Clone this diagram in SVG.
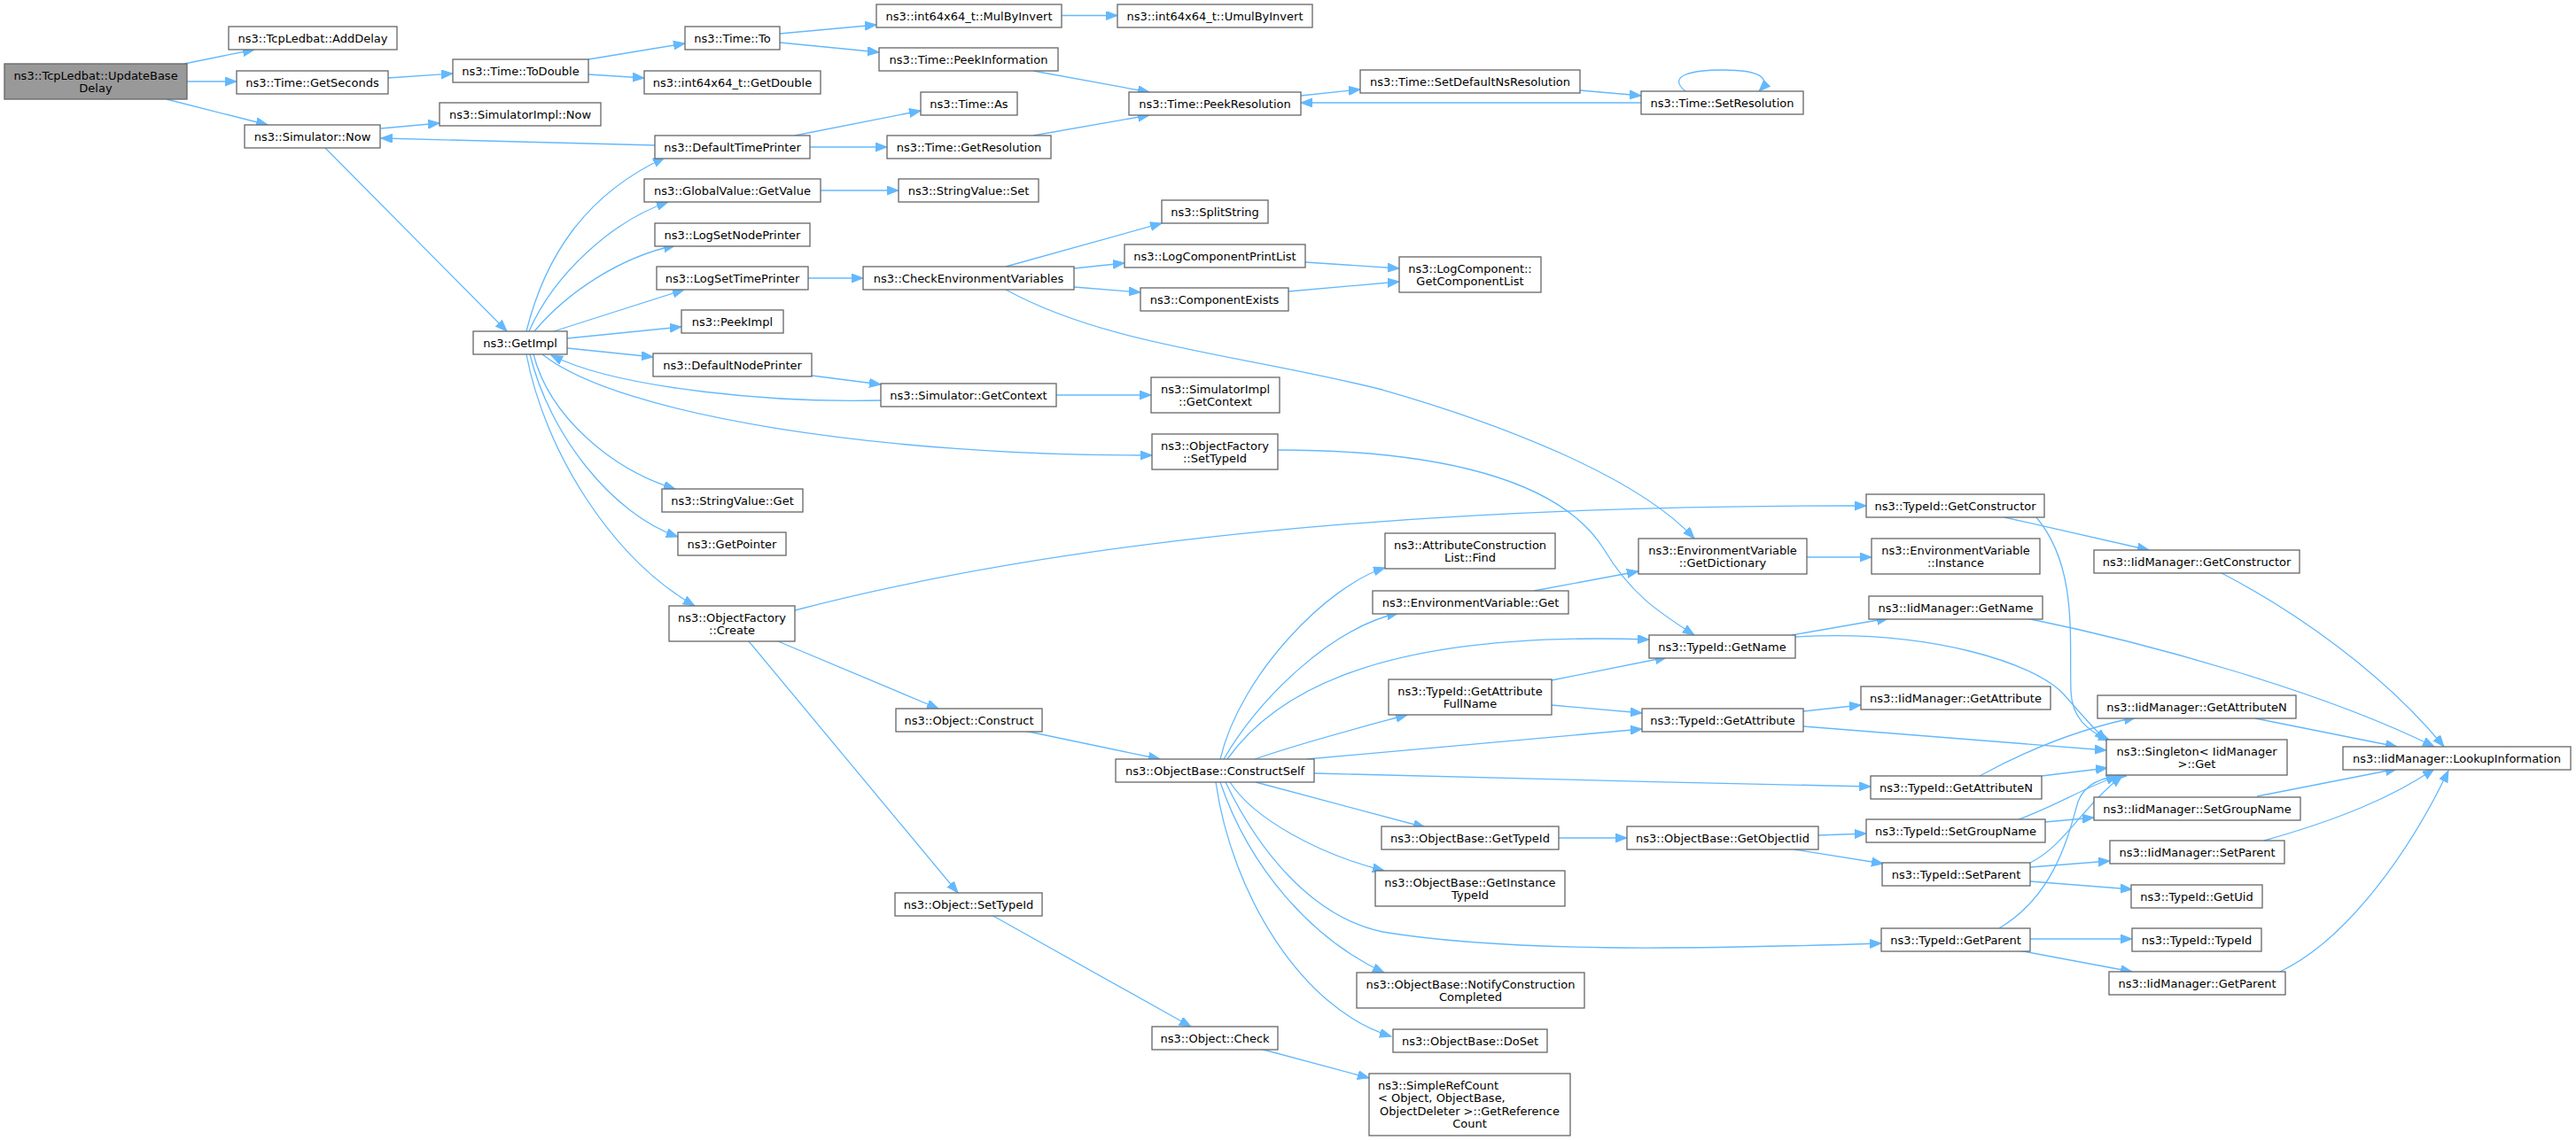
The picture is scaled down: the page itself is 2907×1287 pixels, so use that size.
<svg xmlns="http://www.w3.org/2000/svg" width="2907" height="1287" viewBox="0 0 2907 1287">
<defs>
<style>
.n rect{fill:#ffffff;stroke:#666666;stroke-width:1.3}
.n.main rect{fill:#999999}
.n text{font-family:"DejaVu Sans","Noto Sans",sans-serif;font-size:13px;fill:#000000;text-anchor:middle}
.n text.l{text-anchor:start}
.e path{fill:none;stroke:#63b8ff;stroke-width:1.3;marker-end:url(#arr)}
</style>
<marker id="arr" markerUnits="userSpaceOnUse" markerWidth="14" markerHeight="11" refX="13" refY="5" orient="auto"><path d="M0,0 L13,5 L0,10 z" fill="#63b8ff" stroke="#63b8ff" stroke-width="1"/></marker>
</defs>
<rect width="2907" height="1287" fill="#ffffff"/>
<g id="connectors" class="e">
<path d="M208,72 L287,56"/>
<path d="M211,92 L267,92"/>
<path d="M188,112 L302,141"/>
<path d="M438,88 L511,83"/>
<path d="M664,67 L773,49"/>
<path d="M664,84 L727,88"/>
<path d="M880,38 L989,28"/>
<path d="M880,48 L992,59"/>
<path d="M1198,17.5 L1261,17.5"/>
<path d="M1166,80 L1297,104"/>
<path d="M1166,153 L1297,130"/>
<path d="M1468,108 L1535,101"/>
<path d="M1783,102 L1852,108"/>
<path d="M1852,116 L1468,116"/>
<path d="M1902,103 C1880,85 1910,79 1945,79 C1985,79 2000,88 1985,103"/>
<path d="M430,145 L496,139"/>
<path d="M739,164 L430,156"/>
<path d="M367,167 L572,374"/>
<path d="M594,374 C615,290 660,220 750,178"/>
<path d="M597,374 C625,310 690,250 754,228"/>
<path d="M603,374 C640,330 700,290 762,277"/>
<path d="M625,374 L772,327"/>
<path d="M640,382 L769,369"/>
<path d="M640,393 L737,403"/>
<path d="M897,153 L1039,125"/>
<path d="M914,166 L1001,166"/>
<path d="M926,215 L1014,215"/>
<path d="M912,314 L974,314"/>
<path d="M1135,301 L1311,252"/>
<path d="M1212,303 L1269,297"/>
<path d="M1212,324 L1287,330"/>
<path d="M1473,296 L1579,303"/>
<path d="M1454,329 L1579,318"/>
<path d="M1135,327 C1250,390 1400,400 1560,440 C1700,480 1850,540 1912,608"/>
<path d="M916,424 L994,434"/>
<path d="M994,452 C880,455 700,440 622,401"/>
<path d="M1192,446 L1299,446"/>
<path d="M602,400 C620,470 690,530 762,552"/>
<path d="M598,400 C620,490 690,580 765,606"/>
<path d="M594,400 C615,510 690,630 784,684"/>
<path d="M612,400 C700,470 1000,515 1300,514"/>
<path d="M1442,508 C1620,508 1760,540 1810,620 C1840,670 1870,690 1912,717"/>
<path d="M897,689 C1200,610 1600,570 2106,571"/>
<path d="M878,724 L1059,800"/>
<path d="M845,724 L1081,1008"/>
<path d="M1156,825 L1309,857"/>
<path d="M1119,1033 L1344,1159"/>
<path d="M1422,1184 L1545,1217"/>
<path d="M1377,857 C1400,760 1500,660 1563,641"/>
<path d="M1381,857 C1420,790 1500,710 1578,692"/>
<path d="M1385,857 C1440,780 1560,712 1861,722"/>
<path d="M1416,857 C1470,838 1540,820 1588,807"/>
<path d="M1475,857 L1853,823"/>
<path d="M1483,873 C1700,878 1900,884 2111,888"/>
<path d="M1417,883 L1608,934"/>
<path d="M1388,883 C1415,925 1490,965 1562,983"/>
<path d="M1383,883 C1420,960 1480,1035 1560,1052 C1700,1075 1900,1072 2123,1065"/>
<path d="M1377,883 C1410,980 1480,1060 1562,1098"/>
<path d="M1372,883 C1390,1010 1470,1140 1570,1170"/>
<path d="M1731,667 L1849,645"/>
<path d="M2039,629 L2112,629"/>
<path d="M2262,584 L2425,621"/>
<path d="M2298,584 C2345,640 2335,720 2337,780 C2338,810 2355,825 2381,836"/>
<path d="M2022,717 L2131,698"/>
<path d="M2026,719 C2180,710 2300,750 2330,785 C2350,808 2365,825 2377,836"/>
<path d="M1751,768 L1881,742"/>
<path d="M1751,796 L1853,805"/>
<path d="M2035,803 L2100,796"/>
<path d="M2035,820 L2377,847"/>
<path d="M2234,876 C2300,840 2360,820 2410,810"/>
<path d="M2304,876 L2378,867"/>
<path d="M1759,946 L1836,946"/>
<path d="M2052,943 L2106,941"/>
<path d="M2025,959 L2125,975"/>
<path d="M2308,928 L2363,923"/>
<path d="M2278,925 C2320,910 2350,890 2390,876"/>
<path d="M2291,979 L2381,972"/>
<path d="M2291,995 L2406,1004"/>
<path d="M2291,974 C2330,955 2350,910 2395,876"/>
<path d="M2291,1060 L2406,1060"/>
<path d="M2278,1073 L2406,1097"/>
<path d="M2256,1048 C2320,1010 2335,940 2345,905 C2355,880 2380,876 2400,876"/>
<path d="M2507,647 C2590,690 2690,760 2758,843"/>
<path d="M2287,698 C2420,725 2620,780 2747,843"/>
<path d="M2545,811 L2705,843"/>
<path d="M2547,899 L2705,868"/>
<path d="M2555,949 C2640,925 2700,900 2747,868"/>
<path d="M2573,1097 C2650,1060 2720,960 2763,870"/>
</g>
<g id="n0" class="n main"><rect x="5" y="72" width="206" height="40"/><text x="108" y="89.5">ns3::TcpLedbat::UpdateBase</text><text x="108" y="103.5">Delay</text></g>
<g id="n1" class="n"><rect x="258" y="30" width="190" height="26"/><text x="353" y="47.5">ns3::TcpLedbat::AddDelay</text></g>
<g id="n2" class="n"><rect x="267" y="80" width="171" height="26"/><text x="352.5" y="97.5">ns3::Time::GetSeconds</text></g>
<g id="n3" class="n"><rect x="276" y="141" width="153" height="26"/><text x="352.5" y="158.5">ns3::Simulator::Now</text></g>
<g id="n4" class="n"><rect x="496" y="116" width="182" height="26"/><text x="587" y="133.5">ns3::SimulatorImpl::Now</text></g>
<g id="n5" class="n"><rect x="511" y="67" width="153" height="26"/><text x="587.5" y="84.5">ns3::Time::ToDouble</text></g>
<g id="n6" class="n"><rect x="773" y="30" width="107" height="26"/><text x="826.5" y="47.5">ns3::Time::To</text></g>
<g id="n7" class="n"><rect x="727" y="80" width="199" height="26"/><text x="826.5" y="97.5">ns3::int64x64_t::GetDouble</text></g>
<g id="n8" class="n"><rect x="739" y="153" width="175" height="26"/><text x="826.5" y="170.5">ns3::DefaultTimePrinter</text></g>
<g id="n9" class="n"><rect x="727" y="202" width="199" height="26"/><text x="826.5" y="219.5">ns3::GlobalValue::GetValue</text></g>
<g id="n10" class="n"><rect x="739" y="252" width="175" height="26"/><text x="826.5" y="269.5">ns3::LogSetNodePrinter</text></g>
<g id="n11" class="n"><rect x="741" y="301" width="171" height="26"/><text x="826.5" y="318.5">ns3::LogSetTimePrinter</text></g>
<g id="n12" class="n"><rect x="769" y="350" width="115" height="26"/><text x="826.5" y="367.5">ns3::PeekImpl</text></g>
<g id="n13" class="n"><rect x="534" y="374" width="106" height="26"/><text x="587" y="391.5">ns3::GetImpl</text></g>
<g id="n14" class="n"><rect x="737" y="399" width="179" height="26"/><text x="826.5" y="416.5">ns3::DefaultNodePrinter</text></g>
<g id="n15" class="n"><rect x="989" y="5" width="209" height="26"/><text x="1093.5" y="22.5">ns3::int64x64_t::MulByInvert</text></g>
<g id="n16" class="n"><rect x="1261" y="5" width="220" height="26"/><text x="1371" y="22.5">ns3::int64x64_t::UmulByInvert</text></g>
<g id="n17" class="n"><rect x="992" y="54" width="202" height="26"/><text x="1093" y="71.5">ns3::Time::PeekInformation</text></g>
<g id="n18" class="n"><rect x="1039" y="104" width="109" height="26"/><text x="1093.5" y="121.5">ns3::Time::As</text></g>
<g id="n19" class="n"><rect x="1001" y="153" width="185" height="26"/><text x="1093.5" y="170.5">ns3::Time::GetResolution</text></g>
<g id="n20" class="n"><rect x="1014" y="202" width="158" height="26"/><text x="1093" y="219.5">ns3::StringValue::Set</text></g>
<g id="n21" class="n"><rect x="1274" y="104" width="194" height="26"/><text x="1371" y="121.5">ns3::Time::PeekResolution</text></g>
<g id="n22" class="n"><rect x="1535" y="79" width="248" height="26"/><text x="1659" y="96.5">ns3::Time::SetDefaultNsResolution</text></g>
<g id="n23" class="n"><rect x="1852" y="103" width="183" height="26"/><text x="1943.5" y="120.5">ns3::Time::SetResolution</text></g>
<g id="n24" class="n"><rect x="1311" y="226" width="120" height="26"/><text x="1371" y="243.5">ns3::SplitString</text></g>
<g id="n25" class="n"><rect x="1269" y="276" width="204" height="26"/><text x="1371" y="293.5">ns3::LogComponentPrintList</text></g>
<g id="n26" class="n"><rect x="1579" y="290" width="160" height="40"/><text x="1659" y="307.5">ns3::LogComponent::</text><text x="1659" y="321.5">GetComponentList</text></g>
<g id="n27" class="n"><rect x="974" y="301" width="238" height="26"/><text x="1093" y="318.5">ns3::CheckEnvironmentVariables</text></g>
<g id="n28" class="n"><rect x="1287" y="325" width="167" height="26"/><text x="1370.5" y="342.5">ns3::ComponentExists</text></g>
<g id="n29" class="n"><rect x="994" y="433" width="198" height="26"/><text x="1093" y="450.5">ns3::Simulator::GetContext</text></g>
<g id="n30" class="n"><rect x="1299" y="426" width="145" height="40"/><text x="1371.5" y="443.5">ns3::SimulatorImpl</text><text x="1371.5" y="457.5">::GetContext</text></g>
<g id="n31" class="n"><rect x="1300" y="490" width="142" height="40"/><text x="1371" y="507.5">ns3::ObjectFactory</text><text x="1371" y="521.5">::SetTypeId</text></g>
<g id="n32" class="n"><rect x="747" y="552" width="159" height="26"/><text x="826.5" y="569.5">ns3::StringValue::Get</text></g>
<g id="n33" class="n"><rect x="765" y="601" width="122" height="26"/><text x="826" y="618.5">ns3::GetPointer</text></g>
<g id="n34" class="n"><rect x="755" y="684" width="142" height="40"/><text x="826" y="701.5">ns3::ObjectFactory</text><text x="826" y="715.5">::Create</text></g>
<g id="n35" class="n"><rect x="1011" y="800" width="165" height="26"/><text x="1093.5" y="817.5">ns3::Object::Construct</text></g>
<g id="n36" class="n"><rect x="1259" y="857" width="224" height="26"/><text x="1371" y="874.5">ns3::ObjectBase::ConstructSelf</text></g>
<g id="n37" class="n"><rect x="2106" y="558" width="201" height="26"/><text x="2206.5" y="575.5">ns3::TypeId::GetConstructor</text></g>
<g id="n38" class="n"><rect x="1563" y="602" width="192" height="40"/><text x="1659" y="619.5">ns3::AttributeConstruction</text><text x="1659" y="633.5">List::Find</text></g>
<g id="n39" class="n"><rect x="1849" y="608" width="190" height="40"/><text x="1944" y="625.5">ns3::EnvironmentVariable</text><text x="1944" y="639.5">::GetDictionary</text></g>
<g id="n40" class="n"><rect x="2112" y="608" width="190" height="40"/><text x="2207" y="625.5">ns3::EnvironmentVariable</text><text x="2207" y="639.5">::Instance</text></g>
<g id="n41" class="n"><rect x="2363" y="621" width="232" height="26"/><text x="2479" y="638.5">ns3::IidManager::GetConstructor</text></g>
<g id="n42" class="n"><rect x="1549" y="667" width="221" height="26"/><text x="1659.5" y="684.5">ns3::EnvironmentVariable::Get</text></g>
<g id="n43" class="n"><rect x="2109" y="673" width="196" height="26"/><text x="2207" y="690.5">ns3::IidManager::GetName</text></g>
<g id="n44" class="n"><rect x="1861" y="717" width="165" height="26"/><text x="1943.5" y="734.5">ns3::TypeId::GetName</text></g>
<g id="n45" class="n"><rect x="1567" y="767" width="184" height="40"/><text x="1659" y="784.5">ns3::TypeId::GetAttribute</text><text x="1659" y="798.5">FullName</text></g>
<g id="n46" class="n"><rect x="2100" y="775" width="214" height="26"/><text x="2207" y="792.5">ns3::IidManager::GetAttribute</text></g>
<g id="n47" class="n"><rect x="1853" y="800" width="182" height="26"/><text x="1944" y="817.5">ns3::TypeId::GetAttribute</text></g>
<g id="n48" class="n"><rect x="2367" y="785" width="224" height="26"/><text x="2479" y="802.5">ns3::IidManager::GetAttributeN</text></g>
<g id="n49" class="n"><rect x="2377" y="835" width="204" height="40"/><text x="2479" y="852.5">ns3::Singleton&lt; IidManager</text><text x="2479" y="866.5">&gt;::Get</text></g>
<g id="n50" class="n"><rect x="2644" y="843" width="257" height="26"/><text x="2772.5" y="860.5">ns3::IidManager::LookupInformation</text></g>
<g id="n51" class="n"><rect x="2111" y="876" width="193" height="26"/><text x="2207.5" y="893.5">ns3::TypeId::GetAttributeN</text></g>
<g id="n52" class="n"><rect x="1559" y="933" width="200" height="26"/><text x="1659" y="950.5">ns3::ObjectBase::GetTypeId</text></g>
<g id="n53" class="n"><rect x="1836" y="933" width="216" height="26"/><text x="1944" y="950.5">ns3::ObjectBase::GetObjectIid</text></g>
<g id="n54" class="n"><rect x="2106" y="925" width="202" height="26"/><text x="2207" y="942.5">ns3::TypeId::SetGroupName</text></g>
<g id="n55" class="n"><rect x="2363" y="900" width="233" height="26"/><text x="2479.5" y="917.5">ns3::IidManager::SetGroupName</text></g>
<g id="n56" class="n"><rect x="2124" y="974" width="167" height="26"/><text x="2207.5" y="991.5">ns3::TypeId::SetParent</text></g>
<g id="n57" class="n"><rect x="2381" y="949" width="197" height="26"/><text x="2479.5" y="966.5">ns3::IidManager::SetParent</text></g>
<g id="n58" class="n"><rect x="2405" y="999" width="148" height="26"/><text x="2479" y="1016.5">ns3::TypeId::GetUid</text></g>
<g id="n59" class="n"><rect x="1552" y="983" width="214" height="40"/><text x="1659" y="1000.5">ns3::ObjectBase::GetInstance</text><text x="1659" y="1014.5">TypeId</text></g>
<g id="n60" class="n"><rect x="2123" y="1048" width="168" height="26"/><text x="2207" y="1065.5">ns3::TypeId::GetParent</text></g>
<g id="n61" class="n"><rect x="2406" y="1048" width="146" height="26"/><text x="2479" y="1065.5">ns3::TypeId::TypeId</text></g>
<g id="n62" class="n"><rect x="2380" y="1097" width="199" height="26"/><text x="2479.5" y="1114.5">ns3::IidManager::GetParent</text></g>
<g id="n63" class="n"><rect x="1531" y="1098" width="257" height="40"/><text x="1659.5" y="1115.5">ns3::ObjectBase::NotifyConstruction</text><text x="1659.5" y="1129.5">Completed</text></g>
<g id="n64" class="n"><rect x="1572" y="1162" width="174" height="26"/><text x="1659" y="1179.5">ns3::ObjectBase::DoSet</text></g>
<g id="n65" class="n"><rect x="1545" y="1212" width="227" height="70"/><text class="l" x="1555" y="1229.5">ns3::SimpleRefCount</text><text class="l" x="1555" y="1244">&lt; Object, ObjectBase,</text><text x="1658.5" y="1258.5">ObjectDeleter &gt;::GetReference</text><text x="1658.5" y="1273">Count</text></g>
<g id="n66" class="n"><rect x="1010" y="1008" width="166" height="26"/><text x="1093" y="1025.5">ns3::Object::SetTypeId</text></g>
<g id="n67" class="n"><rect x="1300" y="1159" width="142" height="26"/><text x="1371" y="1176.5">ns3::Object::Check</text></g>
</svg>
